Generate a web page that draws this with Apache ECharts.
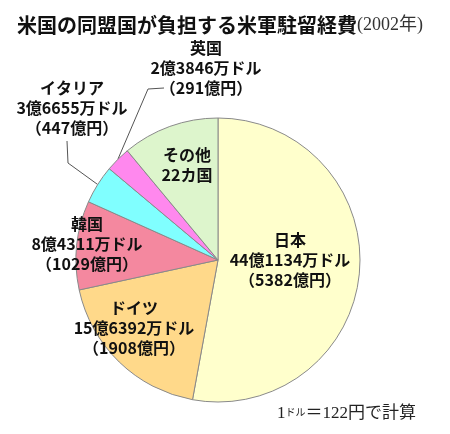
<!DOCTYPE html>
<html>
<head>
<meta charset="utf-8">
<script src="https://cdn.jsdelivr.net/npm/echarts@6/dist/echarts.min.js"></script>
<style>
html,body{margin:0;padding:0;background:#fff;}
#chart{width:450px;height:434px;}
</style>
</head>
<body>
<div id="chart"></div>
<script>
// ---- data ----
const categories = ['日本', 'ドイツ', '韓国', 'イタリア', '英国', 'その他'];
// 億ドル (その他)
const valuesUSD = [44.1134, 15.6392, 8.4311, 3.6655, 2.3846, 9.2];
const dollarLabels = ['44億1134万ドル', '15億6392万ドル', '8億4311万ドル', '3億6655万ドル', '2億3846万ドル', null];
const yenLabels = ['5382億円', '1908億円', '1029億円', '447億円', '291億円', null];
const otherNote = '22カ国';
const titleText = '米国の同盟国が負担する米軍駐留経費';
const yearText = '(2002年)';
const noteParts = ['1', 'ドル', '＝122円で計算'];

// ---- styles ----
const colors = ['#FFFFCC', '#FFD98A', '#F4889F', '#80FFFF', '#FF88EE', '#DDF5CC'];
const labelPos = [[290, 260], [134, 328], [87, 244], [72, 108], [206, 68], [187, 165]];
const outside = [false, false, false, true, true, false];
const CJK = '"Noto Sans CJK JP", "Noto Sans", sans-serif';
const SERIF = '"Liberation Serif", "Noto Sans CJK JP", serif';

const chart = echarts.init(document.getElementById('chart'), null, {renderer: 'canvas'});

const data = categories.map((c, i) => ({
  name: c,
  value: valuesUSD[i],
  itemStyle: {color: colors[i]},
  label: {position: outside[i] ? 'outside' : 'inside'},
  labelLine: {show: outside[i], length: 20, length2: 10}
}));

chart.setOption({
  animation: false,
  backgroundColor: '#fff',
  title: [{
    text: '{a|' + titleText + '}{b|' + yearText + '}',
    left: 12,
    top: 7,
    textStyle: {
      fontWeight: 'normal',
      rich: {
        a: {fontFamily: CJK, fontWeight: 'bold', fontSize: 20, color: '#111', lineHeight: 26},
        b: {fontFamily: SERIF, fontWeight: 'normal', fontSize: 18, color: '#333', lineHeight: 26}
      }
    }
  }, {
    text: '{n|' + noteParts[0] + '}{s|' + noteParts[1] + '}{n|' + noteParts[2] + '}',
    left: 272,
    top: 398,
    textStyle: {
      fontWeight: 'normal',
      rich: {
        n: {fontFamily: SERIF, fontWeight: 'normal', fontSize: 17, color: '#222', lineHeight: 22},
        s: {fontFamily: CJK, fontWeight: 'normal', fontSize: 10, color: '#222', lineHeight: 12, padding: [0, 0, 4, 0]}
      }
    }
  }],
  series: [{
    type: 'pie',
    center: [218, 260],
    radius: 142,
    startAngle: 90,
    clockwise: true,
    avoidLabelOverlap: false,
    itemStyle: {borderColor: '#8a8a8a', borderWidth: 1},
    emphasis: {disabled: true},
    label: {
      show: true,
      fontFamily: CJK,
      fontWeight: 'bold',
      fontSize: 16,
      lineHeight: 20,
      color: '#111',
      align: 'center',
      formatter: function (p) {
        const i = p.dataIndex;
        if (dollarLabels[i] == null) return p.name + '\n' + otherNote;
        return p.name + '\n' + dollarLabels[i] + '\n（' + yenLabels[i] + '）';
      }
    },
    labelLine: {lineStyle: {color: '#555', width: 1}, minTurnAngle: 0},
    labelLayout: function (params) {
      const i = params.dataIndex;
      const pos = labelPos[i];
      const res = {x: pos[0], y: pos[1], align: 'center', verticalAlign: 'middle'};
      if (outside[i] && params.labelLinePoints) {
        const a = params.labelLinePoints[0];
        if (categories[i] === 'イタリア') {
          res.labelLinePoints = [a, [pos[0] - 4, pos[1] + 55], [pos[0] - 5, pos[1] + 33]];
        } else {
          res.labelLinePoints = [a, [pos[0] - 58, pos[1] + 21], [pos[0] - 42, pos[1] + 20]];
        }
      }
      return res;
    },
    data: data
  }]
});
</script>
</body>
</html>
